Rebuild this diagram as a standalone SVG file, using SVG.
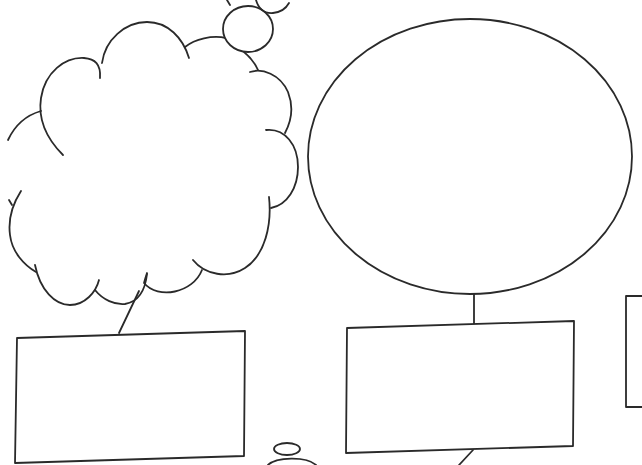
<svg xmlns="http://www.w3.org/2000/svg" width="642" height="465" viewBox="0 0 642 465">
<style>
.s{fill:none;stroke:#2a2a2a;stroke-width:1.8;stroke-linecap:round;stroke-linejoin:round}
.b{fill:#fff;stroke:#2a2a2a;stroke-width:1.8;stroke-linejoin:round}
</style>
<rect width="642" height="465" fill="#fff"/>
<g id="connectors">
<path class="s" d="M139,291 L119,333"/>
<path class="s" d="M474,294 L474,324"/>
<path class="s" d="M473,450 L459,465"/>
</g>
<g id="cloud">
<path class="s" d="M8,140 C15,125 27,115 41,111"/>
<path class="s" d="M63,155 C46,138 38,118 41,98 C45,72 65,57 84,58 C95,59 101,64 100,78"/>
<path class="s" d="M102,63 C105,40 125,22 147,22 C168,22 183,38 189,58"/>
<path class="s" d="M185,47 C195,39 212,35 226,38"/>
<path class="s" d="M244,52 C250,57 255,63 258,70"/>
<path class="s" d="M250,72 C262,68 280,74 288,92 C293,105 292,120 285,133"/>
<path class="s" d="M266,130 C285,128 298,145 298,167 C298,188 287,205 271,208"/>
<path class="s" d="M269,197 C272,225 265,255 245,268 C228,279 205,275 193,260"/>
<path class="s" d="M202,270 C193,293 158,300 144,283 C145,279 146,276 147,273"/>
<path class="s" d="M95,290 C103,300 115,305 125,304 C137,302 145,292 147,274"/>
<path class="s" d="M35,265 C40,290 55,305 70,305 C85,305 96,292 99,280"/>
<path class="s" d="M21,191 C12,205 8,220 10,235 C12,252 24,265 36,272"/>
<path class="s" d="M9,200 L12,205"/>
</g>
<g id="bubble1">
<ellipse class="b" cx="248" cy="29" rx="25" ry="23"/>
</g>
<g id="bubble2">
<path class="s" d="M256,0 Q260,14 273,13 Q284,12 289,3"/>
<path class="s" d="M227,0 L230,5"/>
</g>
<g id="ellipse">
<ellipse class="b" cx="470" cy="156.5" rx="162" ry="137.5"/>
</g>
<g id="box-left">
<polygon class="b" points="17,338 245,331 244,456 15,463"/>
</g>
<g id="box-middle">
<polygon class="b" points="347,328 574,321 573,446 346,453"/>
</g>
<g id="box-right">
<path class="s" d="M642,296 L626,296 L626,407 L642,407"/>
</g>
<g id="small-ellipse">
<ellipse class="b" cx="287" cy="449" rx="13" ry="6"/>
<path class="s" d="M268,465 C276,457 306,456 316,465"/>
</g>
</svg>
